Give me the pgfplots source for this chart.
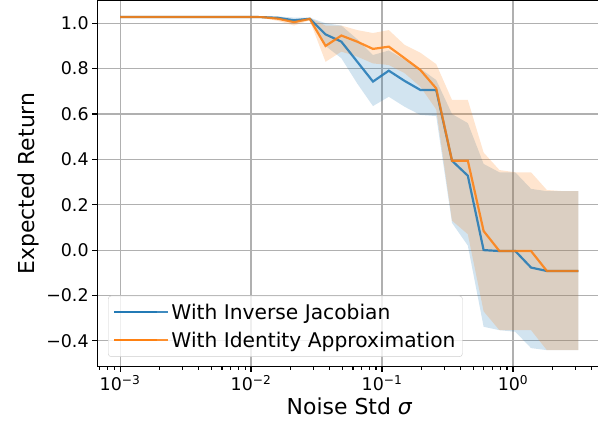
\documentclass[border=0pt]{standalone}
\usepackage{fontspec}
\setmainfont{DejaVu Sans}
\usepackage{pgfplots}
\usepackage{pgfplotstable}
\pgfplotsset{compat=1.18}
\usepgfplotslibrary{fillbetween}
\usetikzlibrary{calc}

\definecolor{tabblue}{HTML}{1F77B4}
\definecolor{taborange}{HTML}{FF7F0E}
\definecolor{gridgray}{HTML}{B0B0B0}

% sigma, blue mean/upper/lower, orange mean/upper/lower
\pgfplotstableread{
x          b      bu     bl      o      ou     ol
0.0010000  1.028  1.030  1.026   1.028  1.030  1.026
0.0013203  1.028  1.030  1.026   1.028  1.030  1.026
0.0017433  1.028  1.030  1.026   1.028  1.030  1.026
0.0023017  1.028  1.030  1.026   1.028  1.030  1.026
0.0030390  1.028  1.030  1.026   1.028  1.030  1.026
0.0040125  1.028  1.030  1.026   1.028  1.030  1.026
0.0052978  1.028  1.030  1.026   1.028  1.030  1.026
0.0069949  1.028  1.030  1.026   1.028  1.030  1.026
0.0092356  1.028  1.030  1.026   1.028  1.030  1.026
0.012194   1.027  1.030  1.024   1.027  1.030  1.024
0.016100   1.024  1.030  1.018   1.020  1.028  1.010
0.021258   1.013  1.025  1.000   1.005  1.018  0.990
0.028068   1.020  1.025  1.015   1.019  1.024  1.013
0.037058   0.951  1.000  0.900   0.900  0.990  0.830
0.048929   0.919  0.990  0.846   0.946  0.990  0.875
0.064604   0.831  0.930  0.735   0.919  0.970  0.853
0.085300   0.743  0.860  0.635   0.887  0.957  0.823
0.11263    0.791  0.880  0.676   0.897  0.970  0.816
0.14871    0.746  0.840  0.632   0.846  0.905  0.780
0.19634    0.706  0.800  0.596   0.794  0.870  0.720
0.25924    0.706  0.750  0.591   0.713  0.820  0.620
0.34229    0.394  0.600  0.120   0.394  0.662  0.130
0.45193    0.328  0.560  0.020   0.394  0.662  0.070
0.59672    0.000  0.380 -0.338   0.084  0.430 -0.270
0.78787   -0.004  0.343 -0.353  -0.004  0.353 -0.353
1.0405    -0.004  0.343 -0.360  -0.004  0.343 -0.353
1.3738    -0.077  0.270 -0.432  -0.004  0.343 -0.353
1.8139    -0.092  0.260 -0.441  -0.092  0.265 -0.441
2.3950    -0.092  0.260 -0.441  -0.092  0.260 -0.441
3.1623    -0.092  0.260 -0.441  -0.092  0.260 -0.441
}\noisedata

\begin{document}
\begin{tikzpicture}
\begin{axis}[
    scale only axis,
    width=504bp, height=365.8bp,
    xmode=log, log basis x=10,
    xmin=6.683e-4, xmax=4.732,
    ymin=-0.5135, ymax=1.10,
    xtick={0.001,0.01,0.1,1},
    xticklabels={10\textsuperscript{−3},10\textsuperscript{−2},10\textsuperscript{−1},10\textsuperscript{0}},
    minor xtick={0.0007,0.0008,0.0009,0.002,0.003,0.004,0.005,0.006,0.007,0.008,0.009,
                 0.02,0.03,0.04,0.05,0.06,0.07,0.08,0.09,0.2,0.3,0.4,0.5,0.6,0.7,0.8,0.9,2,3,4},
    ytick={-0.4,-0.2,0,0.2,0.4,0.6,0.8,1.0},
    yticklabels={−0.4,−0.2,0.0,0.2,0.4,0.6,0.8,1.0},
    grid=major,
    major grid style={gridgray, line width=1.1bp},
    axis line style={line width=1.1bp},
    tick style={black, line width=1.1bp},
    major tick length=5bp, minor tick length=3bp,
    tick align=outside,
    xtick pos=left, ytick pos=left,
    ticklabel style={font=\fontsize{17.5}{20}\selectfont},
    label style={font=\fontsize{22}{26}\selectfont},
    xlabel={Noise Std {\itshape σ}},
    ylabel={Expected Return},
    legend image code/.code={\draw[#1] (0bp,0bp) -- (43bp,0bp); \path (0bp,0bp) -- (54bp,0bp);},
    legend style={at={(0.0216,0.0265)}, anchor=south west,
        draw=black!20, rounded corners=3bp, fill=white, fill opacity=0.8,
        text opacity=1, draw opacity=1, inner xsep=5bp, inner ysep=6bp,
        font=\fontsize{20.3}{24}\selectfont, row sep=7bp},
    legend cell align=left,
]
\coordinate (bl) at (rel axis cs:0,0);
\coordinate (tr) at (rel axis cs:1,1);

\addplot[draw=none, name path=bu, forget plot] table[x=x, y=bu] {\noisedata};
\addplot[draw=none, name path=bl, forget plot] table[x=x, y=bl] {\noisedata};
\addplot[fill=tabblue, fill opacity=0.2, draw=none, forget plot] fill between[of=bu and bl];
\addplot[tabblue, line width=2.2bp, draw opacity=0.85] table[x=x, y=b] {\noisedata};

\addplot[draw=none, name path=ou, forget plot] table[x=x, y=ou] {\noisedata};
\addplot[draw=none, name path=ol, forget plot] table[x=x, y=ol] {\noisedata};
\addplot[fill=taborange, fill opacity=0.2, draw=none, forget plot] fill between[of=ou and ol];
\addplot[taborange, line width=2.2bp, draw opacity=0.85] table[x=x, y=o] {\noisedata};

\legend{With Inverse Jacobian, With Identity Approximation}
\end{axis}
\pgfresetboundingbox
\path[use as bounding box] ($(bl)+(-97.1bp,-62.6bp)$) rectangle ($(tr)+(-3.4bp,0.6bp)$);
\end{tikzpicture}
\end{document}
